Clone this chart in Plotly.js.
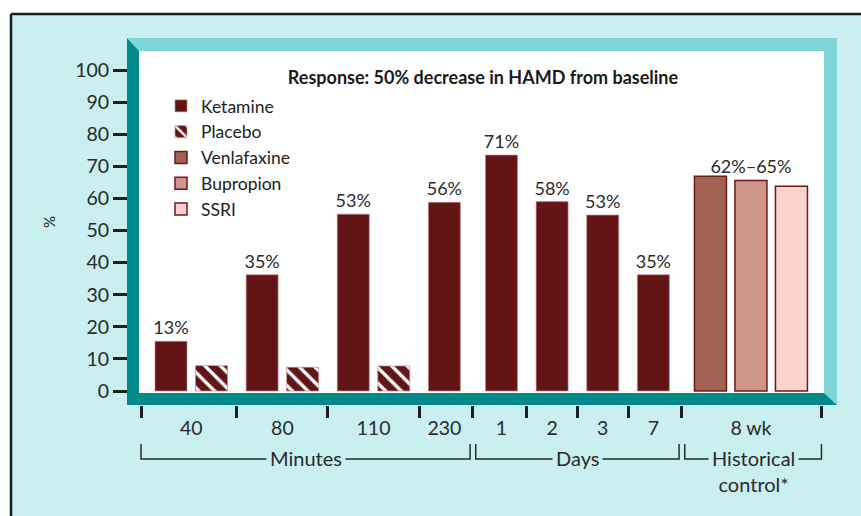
<!DOCTYPE html>
<html><head><meta charset="utf-8">
<script src="https://cdn.plot.ly/plotly-3.0.1.min.js"></script>
<style>html,body{margin:0;padding:0;background:#fff}#chart{width:861px;height:516px}</style>
</head><body><div id="chart"></div>
<script>
// ---------- data ----------
const timeLabels = ["40", "80", "110", "230", "1", "2", "3", "7", "8 wk"];
const sectionNames = ["Minutes", "Days", "Historical<br>control*"];
const sectionOfTime = [0, 0, 0, 0, 1, 1, 1, 1, 2];
const ketamineValues = [15.5, 36.2, 55.1, 58.8, 73.5, 59.0, 54.8, 36.2];
const ketamineLabels = ["13%", "35%", "53%", "56%", "71%", "58%", "53%", "35%"];
const placeboValues = [7.9, 7.4, 7.8];
const historicalNames = ["Venlafaxine", "Bupropion", "SSRI"];
const historicalValues = [66.9, 65.6, 63.8];
const historicalLabels = ["", "62%–65%", ""];
const yTickValues = [0, 10, 20, 30, 40, 50, 60, 70, 80, 90, 100];
const chartTitle = "Response: 50% decrease in HAMD from baseline";
const yTitle = "%";

// ---------- layout helpers ----------
const W = 861, H = 516;
const px = x => x / W, py = y => 1 - y / H;
const FONT = "Lato, 'Open Sans', sans-serif";
const GAP = 0.25, SECTION_GAP = 0.16, BAR_W = 0.79, END = 0.74;
const C = {ket: "#621416", ven: "#a36151", bup: "#cf958a", ssri: "#fad3cd",
           bg: "#c9eff1", tealDark: "#008a8a", tealLight: "#7ed6d8", ink: "#2a2a2a"};
const histColors = [C.ven, C.bup, C.ssri];

// slot positions derived from group structure
let pos = 0;
const groups = [];
timeLabels.forEach((t, i) => {
  const n = (i < ketamineValues.length ? 1 : 0) + (i < placeboValues.length ? 1 : 0) +
            (i === timeLabels.length - 1 ? historicalValues.length : 0);
  if (i > 0) { pos += GAP; if (sectionOfTime[i] !== sectionOfTime[i - 1]) pos += SECTION_GAP; }
  const arr = [];
  for (let k = 0; k < n; k++) { arr.push(pos); pos += 1; }
  groups.push(arr);
});
const ketX = ketamineValues.map((v, i) => groups[i][0]);
const plaX = placeboValues.map((v, i) => groups[i][1]);
const histX = groups[groups.length - 1];
const groupCenters = groups.map(g => (g[0] + g[g.length - 1]) / 2);
const boundaries = [groups[0][0] - END];
for (let i = 0; i < groups.length - 1; i++) {
  boundaries.push((groups[i][groups[i].length - 1] + groups[i + 1][0]) / 2);
}
boundaries.push(groups[groups.length - 1][groups[groups.length - 1].length - 1] + END);

// ---------- traces ----------
const traces = [
  {type: "bar", name: "Ketamine", x: ketX, y: ketamineValues, width: BAR_W,
   marker: {color: C.ket, line: {color: "rgba(190,140,140,0.7)", width: 1}},
   text: ketamineLabels, textposition: "outside", constraintext: "none", cliponaxis: false,
   textfont: {family: FONT, size: 18, color: C.ink}},
  {type: "bar", name: "Placebo", x: plaX, y: placeboValues, width: BAR_W,
   marker: {color: C.ket, line: {color: "rgba(190,140,140,0.7)", width: 1},
            pattern: {shape: "\\", fgcolor: "#ffffff", bgcolor: C.ket, size: 11, solidity: 0.3, fillmode: "replace"}}}
];
historicalNames.forEach((nm, k) => {
  traces.push({type: "bar", name: nm, x: [histX[k]], y: [historicalValues[k]], width: BAR_W,
    marker: {color: histColors[k], line: {color: "#6e1a1a", width: 1.5}},
    text: [historicalLabels[k]], textposition: "outside", constraintext: "none", cliponaxis: false,
    textfont: {family: FONT, size: 18, color: C.ink}});
});

// ---------- decorative shapes ----------
const P = pts => "M" + pts.map(p => px(p[0]) + "," + py(p[1])).join("L") + "Z";
const shapes = [
  {type: "rect", xref: "paper", yref: "paper", x0: 0, x1: 1, y0: py(14), y1: 1, fillcolor: "#ffffff", line: {width: 0}, layer: "below"},
  {type: "rect", xref: "paper", yref: "paper", x0: 0, x1: px(11), y0: 0, y1: 1, fillcolor: "#ffffff", line: {width: 0}, layer: "below"},
  {type: "line", xref: "paper", yref: "paper", x0: px(11), x1: 1.01, y0: py(14), y1: py(14), line: {color: "#1c1c1c", width: 2.5}, layer: "below"},
  {type: "line", xref: "paper", yref: "paper", x0: px(11), x1: px(11), y0: py(14), y1: -0.01, line: {color: "#1c1c1c", width: 2.5}, layer: "below"},
  {type: "path", xref: "paper", yref: "paper", path: P([[127,38],[837,38],[837,405],[824,393],[824,51],[139,51]]), fillcolor: C.tealLight, line: {width: 0}, layer: "below"},
  {type: "path", xref: "paper", yref: "paper", path: P([[127,38],[139,51],[139,393],[824,393],[837,405],[127,405]]), fillcolor: C.tealDark, line: {width: 0}, layer: "below"}
];

// section brackets
const annotations = [];
const sectionCount = sectionNames.length;
for (let s = 0; s < sectionCount; s++) {
  const idx = sectionOfTime.map((v, i) => v === s ? i : -1).filter(i => i >= 0);
  const a = boundaries[idx[0]] + (s > 0 ? 0.07 : 0);
  const b = boundaries[idx[idx.length - 1] + 1] - (s < sectionCount - 1 ? 0.07 : 0);
  shapes.push({type: "path", xref: "x", yref: "paper",
    path: `M${a},${py(444)}L${a},${py(459)}L${b},${py(459)}L${b},${py(444)}`,
    line: {color: "#2a2a2a", width: 1.5}, layer: "above"});
  annotations.push({xref: "x", yref: "paper", x: (a + b) / 2, y: py(442), yanchor: "top", xanchor: "center",
    text: sectionNames[s], showarrow: false, bgcolor: C.bg, borderpad: 3,
    font: {family: FONT, size: 20, color: C.ink}});
}

const layout = {
  width: W, height: H,
  margin: {l: 0, r: 0, t: 0, b: 0},
  paper_bgcolor: C.bg, plot_bgcolor: "#ffffff",
  barmode: "overlay", hovermode: false, showlegend: true,
  title: {text: "<b>" + chartTitle + "</b>", xref: "paper", yref: "paper", x: px(483), y: py(78),
          xanchor: "center", yanchor: "middle", font: {family: FONT, size: 18, color: "#1a1a1a"}},
  xaxis: {domain: [px(139), px(824)], range: [(139 - 171) / 40.5, (824 - 171) / 40.5],
          anchor: "free", position: py(405), showgrid: false, zeroline: false, showline: false,
          tickmode: "array", tickvals: groupCenters, ticktext: timeLabels,
          ticks: "outside", ticklen: 6, tickcolor: "rgba(0,0,0,0)",
          tickfont: {family: FONT, size: 19.5, color: C.ink},
          minor: {tickmode: "array", tickvals: boundaries, ticks: "outside", ticklen: 12, tickwidth: 3, tickcolor: "#1f1f1f", showgrid: false}},
  yaxis: {domain: [py(393), py(51)], range: [-(393 - 391) / 3.21, (391 - 51) / 3.21],
          anchor: "free", position: px(127), showgrid: false, zeroline: false, showline: false,
          tickmode: "array", tickvals: yTickValues, ticks: "outside", ticklen: 14, tickwidth: 3, tickcolor: "#1f1f1f",
          tickfont: {family: FONT, size: 19.5, color: C.ink},
          title: {text: yTitle, standoff: 14, font: {family: FONT, size: 15, color: C.ink}}},
  legend: {x: px(161), y: py(88), xanchor: "left", yanchor: "top", bgcolor: "rgba(0,0,0,0)",
           font: {family: FONT, size: 17.5, color: "#222"}, traceorder: "normal", itemclick: false, itemdoubleclick: false},
  shapes: shapes,
  annotations: annotations
};

Plotly.newPlot("chart", traces, layout, {staticPlot: true, displayModeBar: false});
</script>
</body></html>
